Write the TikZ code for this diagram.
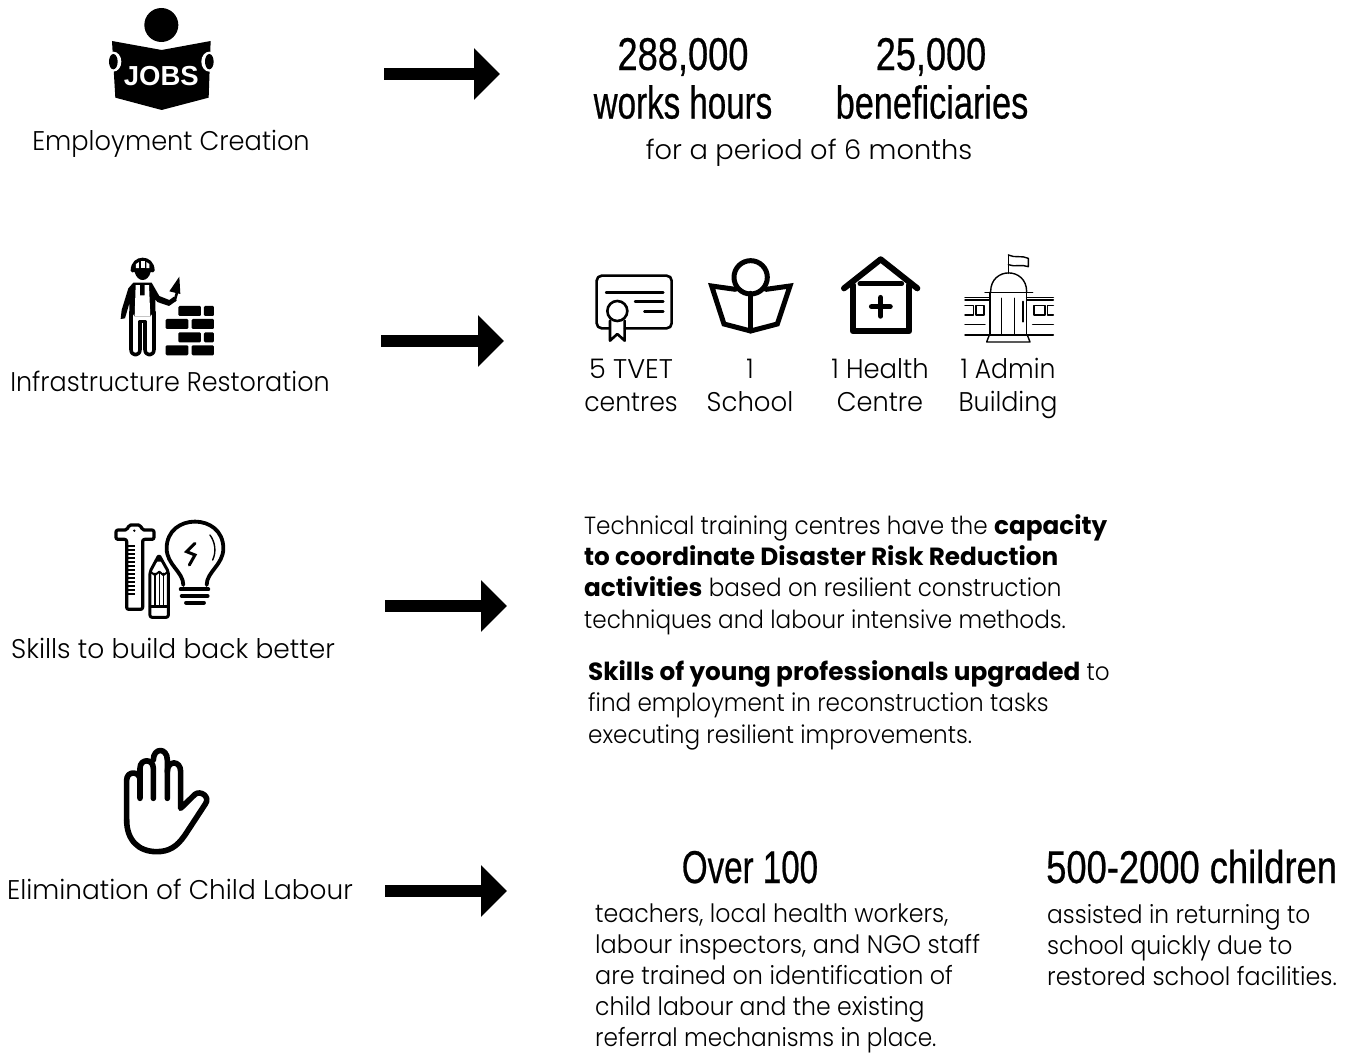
\documentclass[tikz,border=0pt]{standalone}
\usepackage{fontspec}
\usepackage{graphicx}
\usetikzlibrary{arrows.meta}
\setmainfont{Poppins Light}[UprightFeatures={FakeStretch=0.93},BoldFont=Poppins Bold,BoldFeatures={FakeStretch=0.995}]
\newfontfamily\headf{Liberation Sans}[FakeStretch=0.72,FakeBold=0.5]
\newfontfamily\jobsf{Liberation Sans}
\newcommand{\sx}[2]{\scalebox{#1}[1]{#2}}
\tikzset{
 body/.style={inner sep=0pt,align=left,font=\fontsize{24.85}{31.2}\selectfont,text=black},
 bodyb/.style={inner sep=0pt,align=left,font=\fontsize{25.3}{31}\selectfont,text=black},
 lab/.style={inner sep=0pt,align=center,anchor=base,font=\fontsize{27}{33}\selectfont,text=black},
 bignum/.style={inner sep=0pt,anchor=base,font=\headf\fontsize{46}{49}\selectfont,text=black},
 conn/.style={line width=12pt,-{Triangle[length=26pt,width=50pt]},black},
 ic/.style={x=0.3333pt,y=-0.3333pt},
 stk/.style={draw=black,line cap=round,line join=round},
}
\begin{document}
\begin{tikzpicture}[x=1pt,y=-1pt]
\useasboundingbox (0,0) rectangle (1354,1052);
\fill[white] (0,0) rectangle (1354,1052);
% ---- left labels
\node[lab] (emp) at (171,150) {\sx{1.022}{Employment Creation}};
\node[lab] (inf) at (170,391) {\sx{1.013}{Infrastructure Restoration}};
\node[lab] (skl) at (173,658) {\sx{1.055}{Skills to build back better}};
\node[lab] (chl) at (180,899) {\sx{1.05}{Elimination of Child Labour}};
% ---- arrows
\coordinate (a1s) at (384,74);  \coordinate (a1e) at (500,74);
\coordinate (a2s) at (381,341); \coordinate (a2e) at (504,341);
\coordinate (a3s) at (385,606); \coordinate (a3e) at (507,606);
\coordinate (a4s) at (385,891); \coordinate (a4e) at (507,891);
\draw[conn] (a1s) -- (a1e);
\draw[conn] (a2s) -- (a2e);
\draw[conn] (a3s) -- (a3e);
\draw[conn] (a4s) -- (a4e);
% ---- row 1 text
\node[bignum] (n1) at (683,70) {\sx{1.094}{288,000}};
\node[bignum] (n2) at (683,118.5) {works hours};
\node[bignum] (n3) at (931,70) {\sx{1.09}{25,000}};
\node[bignum] (n4) at (932,118.5) {\sx{1.036}{beneficiaries}};
\node[lab] (per) at (809,159) {\sx{1.086}{for a period of 6 months}};
% ---- row 2 text
\node[lab] (t1) at (631,411) {\sx{1.08}{5 TVET}\\centres};
\node[lab] (t2) at (750,411) {1\\\sx{1.036}{School}};
\node[lab] (t3) at (880,411) {\sx{1.03}{1 Health}\\\sx{1.02}{Centre}};
\node[lab] (t4) at (1008,411) {1 Admin\\\sx{1.01}{Building}};
% ---- paragraphs
\node[body,anchor=base west] (p1) at (584,628) {Technical training centres have the \textbf{capacity}\\\textbf{to coordinate Disaster Risk Reduction}\\\textbf{activities} based on resilient construction\\techniques and labour intensive methods.};
\node[body,anchor=base west] (p2) at (588,743) {\textbf{Skills of young professionals upgraded} to\\find employment in reconstruction tasks\\executing resilient improvements.};
\node[bignum] (o1) at (750,883) {Over 100};
\node[bignum,anchor=base west] (o2) at (1046,883) {\sx{1.097}{500-2000 children}};
\node[bodyb,anchor=base west] (p3) at (595,1046.5) {\sx{1.008}{teachers, local health workers,}\\\sx{1.018}{labour inspectors, and NGO staff}\\\sx{1.014}{are trained on identification of}\\child labour and the existing\\\sx{0.986}{referral mechanisms in place.}};
\node[bodyb,anchor=base west] (p4) at (1047,985) {\sx{0.992}{assisted in returning to}\\school quickly due to\\\sx{1.012}{restored school facilities.}};
% ---- JOBS icon
\begin{scope}[shift={(90,0)},ic]
 \fill (214,75) circle (51);
 \fill (66,123) -- (215,150) -- (362,123) -- (356,293) -- (215,330) -- (76,293) -- cycle;
 \fill[white] (70,185) ellipse (24 and 30);
 \fill[white] (358,185) ellipse (24 and 30);
 \fill (70,185) ellipse (13 and 23);
 \fill (358,185) ellipse (13 and 23);
 \node[text=white,inner sep=0pt,font=\jobsf\bfseries\fontsize{27.5}{27}\selectfont] (jobs) at (214,227) {JOBS};
\end{scope}
% ---- Worker icon
\begin{scope}[shift={(100,250)},ic]
 % helmet and head
 \fill (92,62) .. controls (92,68) and (100,68) .. (104,66) .. controls (108,82) and (118,90) .. (128,90) .. controls (138,90) and (148,82) .. (152,66) .. controls (156,68) and (164,68) .. (164,62) .. controls (164,10) and (92,10) .. (92,62) -- cycle;
 \fill[white] (108,54) -- (108,42) -- (117,36) -- (117,54) -- cycle;
 \fill[white] (122,54) -- (122,33) -- (134,33) -- (134,54) -- cycle;
 \fill[white] (139,54) -- (139,36) -- (148,42) -- (148,54) -- cycle;
 % torso and arms
 \fill (100,98) -- (155,98) -- (178,138) -- (208,150) -- (222,140) -- (230,152) -- (207,168) -- (172,156) -- (166,148) -- (166,200) -- (88,200) -- (88,160) -- (75,205) -- (62,207) -- (65,180) -- (85,115) -- cycle;
 \fill[white] (107,105) -- (120,105) -- (120,136) -- (134,136) -- (134,105) -- (147,105) -- (151,200) -- (104,200) -- cycle;
 % overalls
 \draw[stk,line width=3.6pt,fill=white] (93,185) -- (93,298) .. controls (93,320) and (120,320) .. (120,298) -- (120,222) (135,222) -- (135,298) .. controls (135,320) and (162,320) .. (162,298) -- (162,185);
 \draw[stk,line width=3.6pt] (120,222) -- (120,215) -- (135,215) -- (135,222);
 % trowel
 \fill (238,80) -- (208,124) -- (241,132) -- cycle;
 \draw[stk,line width=2.6pt] (231,128) -- (224,152);
 % bricks
 \foreach \xa/\xb/\ya in {235/303/168,312/342/168,197/265/207,275/342/207,235/303/247,312/342/247,197/265/286,275/342/286}
  \fill[rounded corners=1.2pt] (\xa,\ya) rectangle (\xb,\ya+30);
\end{scope}
% ---- Certificate
\begin{scope}[shift={(580,250)},ic]
 \draw[stk,line width=2.6pt,rounded corners=5pt] (88,235) -- (50,235) -- (50,77) -- (275,77) -- (275,235) -- (135,235);
 \draw[stk,line width=2.4pt] (78,127) -- (250,127) (165,155) -- (250,155) (193,185) -- (250,185);
 \draw[stk,line width=2.6pt] (112,183) circle (30);
 \draw[stk,line width=2.6pt] (90,212) -- (90,272) -- (112,252) -- (134,272) -- (134,212);
\end{scope}
% ---- Reader
\begin{scope}[shift={(580,250)},ic]
 \draw[stk,line width=5pt,line join=miter] (466,118) -- (395,108) -- (432,222) -- (512,243) -- (592,222) -- (630,108) -- (558,118);
 \draw[stk,line width=5pt] (512,130) -- (512,243);
 \draw[stk,line width=5pt] (512,82) circle (50);
\end{scope}
% ---- Health
\begin{scope}[shift={(830,250)},ic]
 \draw[stk,line width=6pt] (42,115) -- (152,28) -- (262,115);
 \draw[stk,line width=5pt] (90,101) -- (215,101);
 \draw[stk,line width=6pt] (68,105) -- (68,243) -- (238,243) -- (238,105);
 \draw[stk,line width=5.5pt] (125,170) -- (180,170) (152,143) -- (152,198);
\end{scope}
% ---- Admin building
\begin{scope}[shift={(830,250)},ic,stk,line width=1.4pt]
 \draw (535,15) -- (535,70);
 \draw (535,15) .. controls (555,25) and (575,15) .. (595,25) -- (595,50) .. controls (575,42) and (555,52) .. (535,44);
 \draw (482,125) .. controls (482,50) and (590,50) .. (590,125);
 \draw (465,127) -- (608,127);
 \draw (480,127) -- (480,255) (590,127) -- (590,255) (515,145) -- (515,255) (553,145) -- (553,255);
 \draw (405,142) -- (480,142) (590,142) -- (670,142) (405,150) -- (480,150) (590,150) -- (670,150);
 \draw (405,167) -- (430,167) -- (430,195) -- (405,195);
 \draw (438,167) -- (462,167) -- (462,195) -- (438,195) -- cycle;
 \draw (612,167) -- (645,167) -- (645,195) -- (612,195) -- cycle;
 \draw (670,167) -- (652,167) -- (652,195) -- (670,195);
 \draw (405,224) -- (465,224) (608,224) -- (670,224);
 \draw (405,255) -- (670,255);
 \draw (478,255) -- (470,276) -- (600,276) -- (592,255);
 \draw[line width=2pt] (580,155) -- (580,215);
\end{scope}
% ---- Skills
\begin{scope}[shift={(100,510)},ic,stk]
 \draw[line width=3.2pt,rounded corners=2pt] (80,88) -- (48,88) -- (48,60) -- (82,60) -- (86,45) -- (122,45) -- (126,60) -- (162,60) -- (162,88) -- (128,88) -- (128,298) -- (80,298) -- cycle;
 \fill (103,62) circle (4);
 \foreach \yy in {108,120,132,144,156,168,180,192,204,216,228,240,252}
  \draw[line width=1.6pt,line cap=butt] (82,\yy) -- (105,\yy);
 \draw[line width=3pt,fill=white,rounded corners=2pt] (150,185) -- (177,135) -- (205,185) -- (205,322) -- (150,322) -- cycle;
 \draw[line width=1.4pt] (165,190) -- (165,285) (178,190) -- (178,285) (190,190) -- (190,285);
 \draw[line width=2pt] (150,185) -- (165,195) -- (178,185) -- (190,195) -- (205,185);
 \draw[line width=2.4pt] (150,290) -- (205,290);
 \fill (177,135) -- (166,155) -- (188,155) -- cycle;
 \draw[line width=3.8pt] (250,225) .. controls (250,185) and (200,165) .. (200,115) .. controls (200,8) and (370,8) .. (370,115) .. controls (370,165) and (320,185) .. (320,225);
 \draw[line width=1.4pt] (330,75) .. controls (345,95) and (350,125) .. (338,150);
 \draw[line width=3pt,line join=miter] (285,100) -- (260,125) -- (285,135) -- (268,165);
 \draw[line width=3.8pt] (242,238) -- (325,238) (245,258) -- (323,258) (258,278) -- (312,278);
\end{scope}
% ---- Hand
\begin{scope}[shift={(110,740)},ic,stk,line width=5.6pt]
 \draw (50,240) -- (50,120) .. controls (50,92) and (90,92) .. (90,120);
 \draw (90,175) -- (90,85) .. controls (90,55) and (130,55) .. (130,85) -- (130,175);
 \draw (130,60) .. controls (130,22) and (172,22) .. (172,60) -- (172,175);
 \draw (172,95) .. controls (172,60) and (212,60) .. (212,95) -- (212,205) -- (255,163) .. controls (271,150) and (302,170) .. (286,192) -- (225,285) .. controls (200,322) and (175,335) .. (140,335) .. controls (85,335) and (50,300) .. (50,240);
\end{scope}
\end{tikzpicture}
\end{document}
